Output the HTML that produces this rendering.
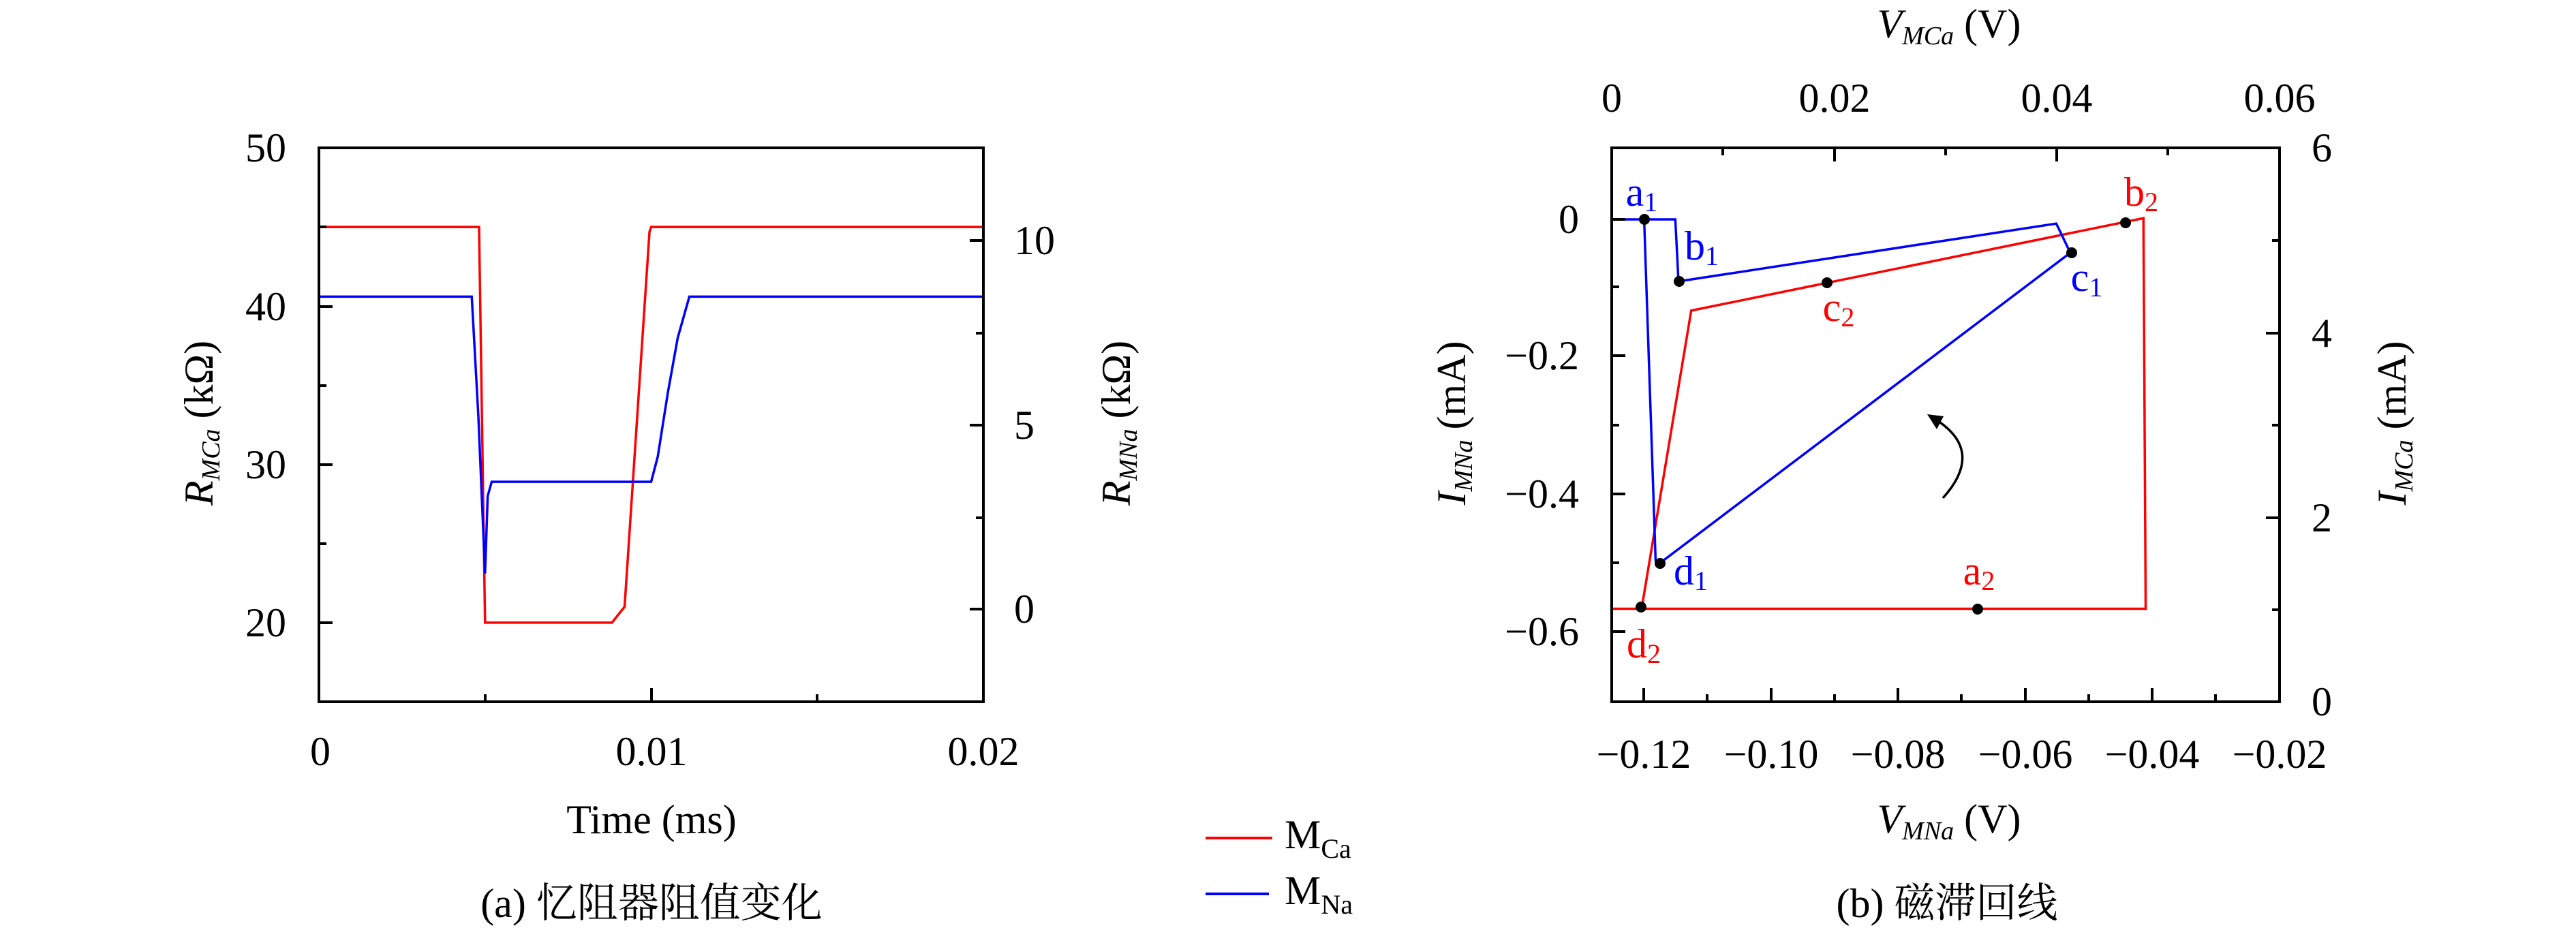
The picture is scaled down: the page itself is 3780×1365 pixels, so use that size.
<!DOCTYPE html>
<html><head><meta charset="utf-8"><style>
html,body{margin:0;padding:0;background:#fff;}
svg{display:block}
text{font-family:"Liberation Serif","Noto Serif CJK SC",serif;font-size:60px;fill:#000}
.c{font-family:"Liberation Serif","Noto Serif CJK SC","Noto Sans CJK SC",serif}
</style></head><body>
<svg width="3780" height="1365" viewBox="0 0 3780 1365" xmlns="http://www.w3.org/2000/svg" font-family="Liberation Serif, serif">
<svg x="468" y="217" width="975" height="813" viewBox="0 -50 20 35" preserveAspectRatio="none">
<polyline fill="none" stroke="#f00" stroke-width="3.5" vector-effect="non-scaling-stroke" points="0,-45 4.82,-45 5.0,-20 8.82,-20 9.2,-21 9.95,-44.7 10.0,-45 20,-45"/>
<polyline fill="none" stroke="#00f" stroke-width="3.5" vector-effect="non-scaling-stroke" points="0,-40.6 4.6,-40.6 4.8,-33 5.0,-23.1 5.08,-28 5.2,-28.9 10.0,-28.9 10.2,-30.5 10.5,-34.5 10.8,-38 11.15,-40.6 20,-40.6"/>
</svg>
<g stroke="#000" stroke-width="4" fill="none">
<rect x="468" y="217" width="975" height="813"/>
<path d="M468 450h20M468 682h20M468 914h20M468 333h11M468 566h11M468 798h11"/>
<path d="M1443 353h-20M1443 624h-20M1443 894h-20M1443 489h-11M1443 760h-11"/>
<path d="M956 1030v-20M712 1030v-11M1199 1030v-11"/>
</g>
<g text-anchor="end" dominant-baseline="central">
<text x="420" y="217">50</text><text x="420" y="450">40</text><text x="420" y="682">30</text><text x="420" y="914">20</text>
</g>
<g dominant-baseline="central">
<text x="1488" y="353">10</text><text x="1488" y="624">5</text><text x="1488" y="894">0</text>
</g>
<g text-anchor="middle" dominant-baseline="central">
<text x="470" y="1103">0</text><text x="956" y="1103">0.01</text><text x="1443" y="1103">0.02</text>
<text x="956" y="1203">Time (ms)</text>
<text class="c" x="956" y="1326">(a) 忆阻器阻值变化</text>
</g>
<text transform="translate(312,621) rotate(-90)" text-anchor="middle"><tspan font-style="italic">R</tspan><tspan font-style="italic" font-size="38" dy="10">MCa</tspan><tspan dy="-10"> (kΩ)</tspan></text>
<text transform="translate(1658,621) rotate(-90)" text-anchor="middle"><tspan font-style="italic">R</tspan><tspan font-style="italic" font-size="38" dy="10">MNa</tspan><tspan dy="-10"> (kΩ)</tspan></text>
<line x1="1769" y1="1230" x2="1867" y2="1230" stroke="#f00" stroke-width="4"/>
<line x1="1769" y1="1312" x2="1862" y2="1312" stroke="#00f" stroke-width="4"/>
<text x="1885" y="1245" font-size="64">M<tspan font-size="40" dy="14">Ca</tspan></text>
<text x="1885" y="1327" font-size="64">M<tspan font-size="40" dy="14">Na</tspan></text>

<svg x="2365" y="217" width="980" height="813" viewBox="-125 -104 105 805.5" preserveAspectRatio="none">
<polyline fill="none" stroke="#f00" stroke-width="3.5" vector-effect="non-scaling-stroke" points="-125,566.3 -41.05,566.3 -41.4,-1.7 -112.5,132.7 -120.3,566.3"/>
<polyline fill="none" stroke="#00f" stroke-width="3.5" vector-effect="non-scaling-stroke" points="-125,0 -115,0 -114.5,90.2 -55.1,6.1 -52.9,48.6 -117.5,500.4 -118.1,496 -119.9,0"/>
</svg>
<g stroke="#000" stroke-width="4" fill="none">
<rect x="2365" y="217" width="980" height="813"/>
<path d="M2412 1030v-20M2599 1030v-20M2785 1030v-20M2972 1030v-20M3158 1030v-20M2505 1030v-11M2692 1030v-11M2878 1030v-11M3065 1030v-11M3251 1030v-11"/>
<path d="M2365 322h20M2365 522h20M2365 725h20M2365 927h20M2365 421h11M2365 624h11M2365 826h11"/>
<path d="M2692 217v20M3018 217v20M2528 217v11M2855 217v11M3181 217v11"/>
<path d="M3345 760h-20M3345 489h-20M3345 895h-11M3345 624h-11M3345 353h-11"/>
</g>
<g fill="#000">
<circle cx="2413" cy="322" r="8"/><circle cx="2464" cy="413" r="8"/><circle cx="3040" cy="371" r="8"/><circle cx="2436" cy="827" r="8"/>
<circle cx="2902" cy="894" r="8"/><circle cx="3119" cy="327" r="8"/><circle cx="2681" cy="415" r="8"/><circle cx="2408" cy="891" r="8"/>
</g>
<g dominant-baseline="central" text-anchor="middle">
<text x="2409" y="282" style="fill:#00f">a<tspan font-size="40" dy="14">1</tspan></text>
<text x="2497" y="361" style="fill:#00f">b<tspan font-size="40" dy="14">1</tspan></text>
<text x="3062" y="407" style="fill:#00f">c<tspan font-size="40" dy="14">1</tspan></text>
<text x="2481" y="838" style="fill:#00f">d<tspan font-size="40" dy="14">1</tspan></text>
<text x="2904" y="838" style="fill:#f00">a<tspan font-size="40" dy="14">2</tspan></text>
<text x="3142" y="282" style="fill:#f00">b<tspan font-size="40" dy="14">2</tspan></text>
<text x="2698" y="451" style="fill:#f00">c<tspan font-size="40" dy="14">2</tspan></text>
<text x="2412" y="945" style="fill:#f00">d<tspan font-size="40" dy="14">2</tspan></text>
</g>
<path d="M2836 613 Q2915 660 2851 731" fill="none" stroke="#000" stroke-width="3.5"/>
<path d="M2828 608 L2852 611 L2842 630 Z" fill="#000"/>
<g text-anchor="end" dominant-baseline="central">
<text x="2317" y="322">0</text><text x="2317" y="522">−0.2</text><text x="2317" y="725">−0.4</text><text x="2317" y="927">−0.6</text>
</g>
<g dominant-baseline="central">
<text x="3392" y="217">6</text><text x="3392" y="489">4</text><text x="3392" y="760">2</text><text x="3392" y="1030">0</text>
</g>
<g text-anchor="middle" dominant-baseline="central">
<text x="2365" y="144">0</text><text x="2692" y="144">0.02</text><text x="3018" y="144">0.04</text><text x="3345" y="144">0.06</text>
<text x="2412" y="1107">−0.12</text><text x="2599" y="1107">−0.10</text><text x="2785" y="1107">−0.08</text><text x="2972" y="1107">−0.06</text><text x="3158" y="1107">−0.04</text><text x="3345" y="1107">−0.02</text>
<text class="c" x="2857" y="1326">(b) 磁滞回线</text>
</g>
<text x="2860" y="55" text-anchor="middle"><tspan font-style="italic">V</tspan><tspan font-style="italic" font-size="38" dy="10">MCa</tspan><tspan dy="-10"> (V)</tspan></text>
<text x="2860" y="1222" text-anchor="middle"><tspan font-style="italic">V</tspan><tspan font-style="italic" font-size="38" dy="10">MNa</tspan><tspan dy="-10"> (V)</tspan></text>
<text transform="translate(2150,621) rotate(-90)" text-anchor="middle"><tspan font-style="italic">I</tspan><tspan font-style="italic" font-size="38" dy="10">MNa</tspan><tspan dy="-10"> (mA)</tspan></text>
<text transform="translate(3530,621) rotate(-90)" text-anchor="middle"><tspan font-style="italic">I</tspan><tspan font-style="italic" font-size="38" dy="10">MCa</tspan><tspan dy="-10"> (mA)</tspan></text>
</svg>
</body></html>
